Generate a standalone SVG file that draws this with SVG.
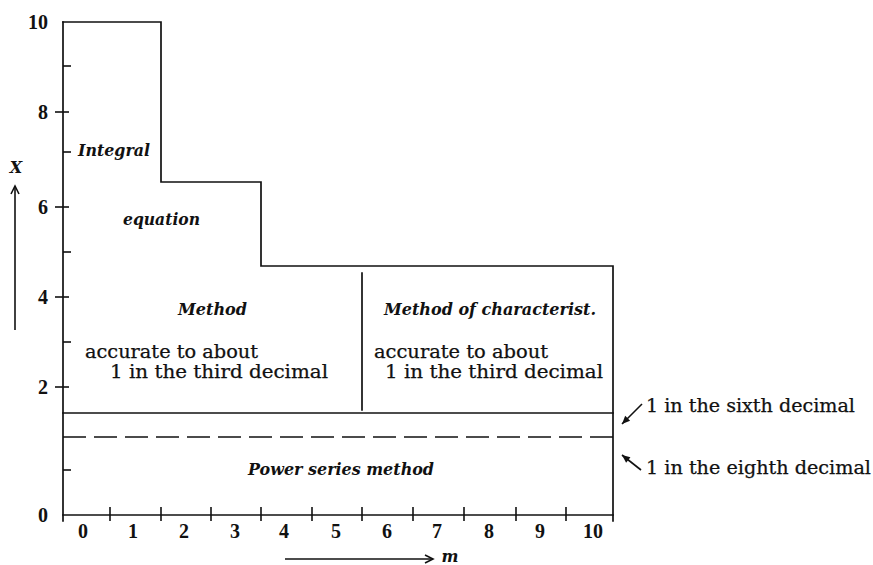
<svg xmlns="http://www.w3.org/2000/svg" width="873" height="565" viewBox="0 0 873 565">
<style>
.ln{stroke:#111;stroke-width:1.7;fill:none;stroke-linecap:square}
.tk{stroke:#111;stroke-width:1.6;fill:none}
.num{font-family:"Liberation Serif",serif;font-weight:bold;font-size:20px;fill:#111}
.rm{font-family:"DejaVu Serif",serif;font-size:18px;fill:#111;stroke:#111;stroke-width:0.25}
.it{font-family:"DejaVu Serif",serif;font-style:italic;font-weight:bold;font-size:16px;fill:#111}
.ar{stroke:#111;stroke-width:1.6;fill:none}
</style>
<defs>
<marker id="head" markerWidth="10" markerHeight="10" refX="9" refY="5" orient="auto" markerUnits="userSpaceOnUse">
<path d="M1,1.5 L9,5 L1,8.5 Z" fill="#111"/>
</marker>
<marker id="vhead" markerWidth="12" markerHeight="10" refX="10" refY="5" orient="auto" markerUnits="userSpaceOnUse">
<path d="M2,1 L10,5 L2,9" fill="none" stroke="#111" stroke-width="1.6"/>
</marker>
</defs>
<rect width="873" height="565" fill="#fff"/>

<g id="axes">
<line class="ln" x1="63" y1="22" x2="63" y2="521"/>
<line class="ln" x1="63" y1="515" x2="613" y2="515"/>
<g class="tk">
<line x1="55" y1="112" x2="69" y2="112"/>
<line x1="55" y1="207" x2="69" y2="207"/>
<line x1="55" y1="297" x2="69" y2="297"/>
<line x1="55" y1="387" x2="69" y2="387"/>
<line x1="63" y1="66" x2="71" y2="66"/>
<line x1="63" y1="152" x2="71" y2="152"/>
<line x1="63" y1="252" x2="71" y2="252"/>
<line x1="63" y1="342" x2="71" y2="342"/>
<line x1="63" y1="470" x2="71" y2="470"/>
<line x1="110" y1="507" x2="110" y2="521"/>
<line x1="161" y1="507" x2="161" y2="521"/>
<line x1="211" y1="507" x2="211" y2="521"/>
<line x1="261" y1="507" x2="261" y2="521"/>
<line x1="312" y1="507" x2="312" y2="521"/>
<line x1="362" y1="507" x2="362" y2="521"/>
<line x1="413" y1="507" x2="413" y2="521"/>
<line x1="464" y1="507" x2="464" y2="521"/>
<line x1="516" y1="507" x2="516" y2="521"/>
<line x1="566" y1="507" x2="566" y2="521"/>
</g>
<g class="num" text-anchor="end">
<text x="48" y="29">10</text>
<text x="48" y="119">8</text>
<text x="48" y="214">6</text>
<text x="48" y="304">4</text>
<text x="48" y="394">2</text>
<text x="48" y="522">0</text>
</g>
<g class="num" text-anchor="middle">
<text x="83" y="538">0</text>
<text x="133" y="538">1</text>
<text x="184" y="538">2</text>
<text x="235" y="538">3</text>
<text x="284" y="538">4</text>
<text x="336" y="538">5</text>
<text x="387" y="538">6</text>
<text x="437" y="538">7</text>
<text x="489" y="538">8</text>
<text x="540" y="538">9</text>
<text x="593" y="538">10</text>
</g>
<text class="it" x="16" y="173" text-anchor="middle" font-size="23">X</text>
<text class="it" x="450" y="562" text-anchor="middle" font-size="20">m</text>
</g>

<g id="region-integral">
<path class="ln" d="M63,22 L161,22 L161,182 L261,182 L261,266 L613,266 L613,521"/>
<text class="it" x="78" y="156" textLength="72" lengthAdjust="spacingAndGlyphs">Integral</text>
<text class="it" x="123" y="225" textLength="77" lengthAdjust="spacingAndGlyphs">equation</text>
<text class="it" x="178" y="315" textLength="69" lengthAdjust="spacingAndGlyphs">Method</text>
<text class="rm" x="85" y="358" textLength="173" lengthAdjust="spacingAndGlyphs">accurate to about</text>
<text class="rm" x="110" y="378" textLength="218" lengthAdjust="spacingAndGlyphs">1 in the third decimal</text>
</g>

<g id="region-characteristics">
<line class="ln" x1="362" y1="273" x2="362" y2="410"/>
<text class="it" x="384" y="315" textLength="212" lengthAdjust="spacingAndGlyphs">Method of characterist.</text>
<text class="rm" x="374" y="358" textLength="174" lengthAdjust="spacingAndGlyphs">accurate to about</text>
<text class="rm" x="385" y="378" textLength="218" lengthAdjust="spacingAndGlyphs">1 in the third decimal</text>
</g>

<g id="region-power-series">
<line class="ln" x1="63" y1="413" x2="613" y2="413"/>
<line x1="63" y1="437" x2="613" y2="437" stroke="#111" stroke-width="1.6" stroke-dasharray="23 8"/>
<text class="it" x="248" y="475" textLength="186" lengthAdjust="spacingAndGlyphs">Power series method</text>
</g>

<g id="label-sixth">
<text class="rm" x="646" y="412" textLength="209" lengthAdjust="spacingAndGlyphs">1 in the sixth decimal</text>
</g>
<g id="label-eighth">
<text class="rm" x="646" y="474" textLength="225" lengthAdjust="spacingAndGlyphs">1 in the eighth decimal</text>
</g>

<g id="connectors">
<line class="ar" x1="15" y1="330" x2="15" y2="186" marker-end="url(#vhead)"/>
<line class="ar" x1="285" y1="559" x2="433" y2="559" marker-end="url(#vhead)"/>
<line class="ar" x1="642" y1="404" x2="622" y2="424" marker-end="url(#head)"/>
<line class="ar" x1="641" y1="470" x2="622" y2="455" marker-end="url(#head)"/>
</g>
</svg>
